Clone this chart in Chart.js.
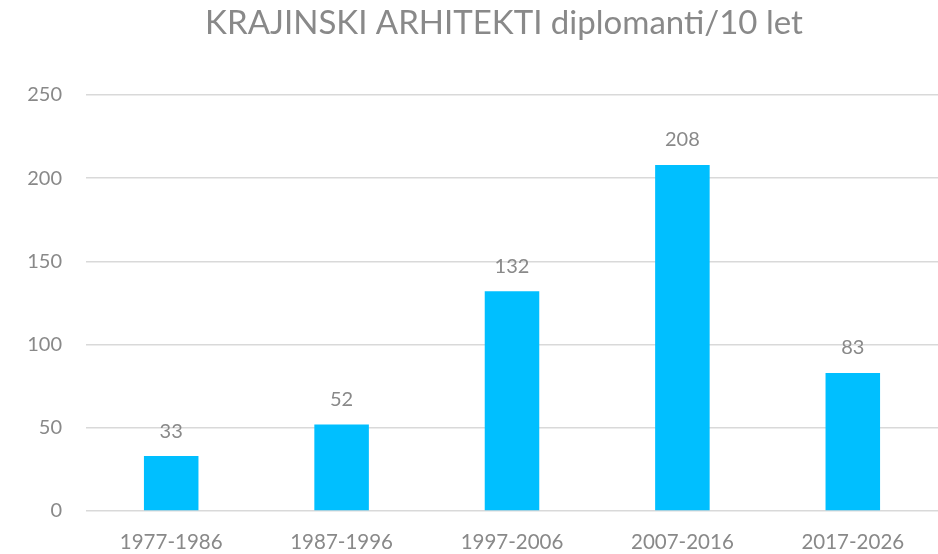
<!DOCTYPE html>
<html>
<head>
<meta charset="utf-8">
<script src="https://cdn.jsdelivr.net/npm/chart.js@4"></script>
<style>
  html, body { margin: 0; padding: 0; background: #fff; }
  #wrap { width: 938px; height: 554px; }
</style>
</head>
<body>
<div id="wrap"><canvas id="chart"></canvas></div>
<script>
const categories = ['1977-1986', '1987-1996', '1997-2006', '2007-2016', '2017-2026'];
const graduates = [33, 52, 132, 208, 83];
const yTicks = [0, 50, 100, 150, 200, 250];
const chartTitle = 'KRAJINSKI ARHITEKTI diplomanti/10 let';

const textColor = '#898989';
const font = 'Lato, "Open Sans", sans-serif';

// values above each bar + title centred a bit right of the canvas (as in Excel)
const barLabels = {
    id: 'barLabels',
    afterDatasetsDraw(chart) {
        let ctx = chart.ctx;
        ctx.save();
        ctx.font = '20px ' + font;
        ctx.fillStyle = textColor;
        ctx.textAlign = 'center';
        ctx.textBaseline = 'middle';
        chart.getDatasetMeta(0).data.forEach((bar, i) => {
            ctx.fillText(graduates[i], bar.x, bar.y - 25);
        });

        ctx.font = '33px ' + font;
        let area = chart.chartArea;
        ctx.fillText(chartTitle, (area.left + area.right) / 2 - 8, 23);
        ctx.restore();
    }
};

new Chart(document.getElementById('chart'), {
    type: 'bar',
    data: {
        labels: categories,
        datasets: [{
            data: graduates,
            backgroundColor: '#00bfff',
            borderWidth: 0,
            barPercentage: 0.32,
            categoryPercentage: 1
        }]
    },
    options: {
        responsive: true,
        maintainAspectRatio: false,
        animation: false,
        layout: { padding: { left: 0, right: 0, top: 95, bottom: 0 } },
        scales: {
            x: {
                afterFit: scale => { scale.height = 43; },
                grid: { display: false, drawTicks: false },
                border: { display: false },
                ticks: { color: textColor, font: { family: font, size: 20.5 }, padding: 19, maxRotation: 0 }
            },
            y: {
                min: 0,
                max: 250,
                afterBuildTicks: scale => { scale.ticks = yTicks.map(v => ({ value: v })); },
                afterFit: scale => { scale.width = 86; },
                grid: { color: '#d9d9d9', lineWidth: 1.5, drawTicks: false },
                border: { display: false },
                ticks: { color: textColor, font: { family: font, size: 20 }, padding: 24 }
            }
        },
        plugins: {
            legend: { display: false },
            tooltip: { enabled: false },
            title: { display: false }
        }
    },
    plugins: [barLabels]
});
</script>
</body>
</html>
